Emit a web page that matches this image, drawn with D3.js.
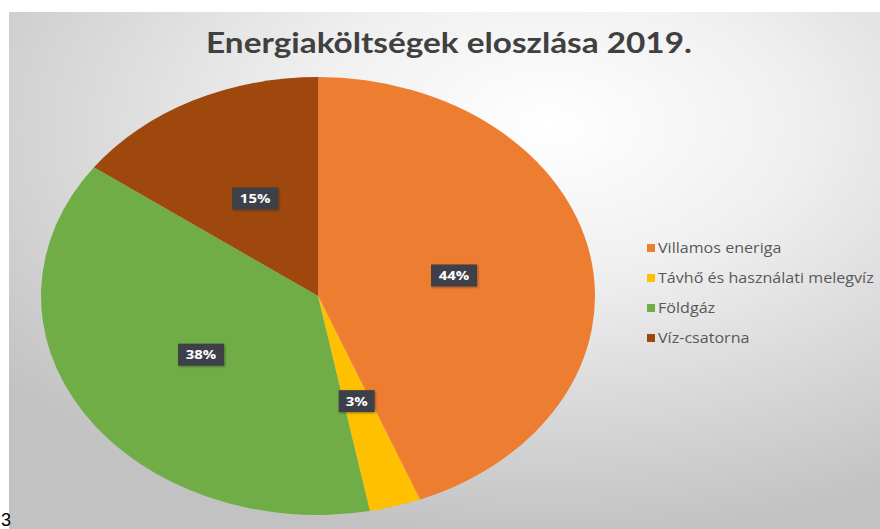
<!DOCTYPE html>
<html>
<head>
<meta charset="utf-8">
<script src="https://cdn.jsdelivr.net/npm/d3@7"></script>
<style>
  body { margin: 0; background: #fff; }
  svg { display: block; }
</style>
</head>
<body>
<svg id="chart"></svg>
<script>
const width = 880;
const height = 529;

const categories = ["Villamos eneriga", "Távhő és használati melegvíz", "Földgáz", "Víz-csatorna"];
const values = [44, 3, 38, 15];
const colors = ["#ED7D31", "#FFC000", "#70AD47", "#9E480E"];
const titleText = "Energiaköltségek eloszlása 2019.";

const svg = d3.select("#chart")
  .attr("width", width)
  .attr("height", height);

// background gradient (Excel style)
const defs = svg.append("defs");
const grad = defs.append("radialGradient")
  .attr("id", "bg")
  .attr("cx", "0.62").attr("cy", "0.22").attr("r", "0.8");
grad.append("stop").attr("offset", "0%").attr("stop-color", "#ffffff");
grad.append("stop").attr("offset", "35%").attr("stop-color", "#f0f0f0");
grad.append("stop").attr("offset", "100%").attr("stop-color", "#c2c2c2");

const shadow = defs.append("filter").attr("id", "lblShadow")
  .attr("x", "-30%").attr("y", "-30%").attr("width", "160%").attr("height", "160%");
shadow.append("feDropShadow")
  .attr("dx", 1).attr("dy", 1).attr("stdDeviation", 1.2)
  .attr("flood-color", "#000").attr("flood-opacity", 0.35);

svg.append("rect")
  .attr("x", 9).attr("y", 12)
  .attr("width", width - 9).attr("height", height - 12)
  .attr("fill", "url(#bg)");

// stray character from the screenshot
svg.append("text")
  .attr("x", 1).attr("y", 526)
  .style("font-family", "Liberation Sans, Arial, sans-serif")
  .style("font-size", "18px")
  .attr("fill", "#000")
  .text("3");

// Title (stretched horizontally like the reference)
svg.append("text")
  .attr("transform", "translate(449,53) scale(1.19,1)")
  .attr("text-anchor", "middle")
  .style("font-family", "Lato, 'Open Sans', sans-serif")
  .style("font-size", "28px")
  .style("font-weight", "bold")
  .attr("fill", "#404040")
  .text(titleText);

// Pie (stretched horizontally like the reference)
const cx = 318, cy = 296;
const ry = 219, rx = 277;
const sx = rx / ry;

const pie = d3.pie().sort(null).value(d => d);
const arc = d3.arc().innerRadius(0).outerRadius(ry);
const arcs = pie(values);

const g = svg.append("g")
  .attr("transform", `translate(${cx},${cy}) scale(${sx},1)`);

g.selectAll("path")
  .data(arcs)
  .enter()
  .append("path")
  .attr("d", arc)
  .attr("fill", (d, i) => colors[i]);

// Data labels
const lbl = svg.append("g").attr("transform", `translate(${cx},${cy})`);
const lg = lbl.selectAll("g")
  .data(arcs)
  .enter()
  .append("g")
  .attr("transform", d => {
    const c = arc.centroid(d);
    return `translate(${c[0] * sx},${c[1]})`;
  });

lg.append("rect")
  .attr("x", d => d.data < 10 ? -18 : -23)
  .attr("y", -11)
  .attr("width", d => d.data < 10 ? 36 : 46)
  .attr("height", 22)
  .attr("fill", "#3d4148")
  .attr("filter", "url(#lblShadow)");

lg.append("text")
  .attr("text-anchor", "middle")
  .attr("dy", "0.36em")
  .attr("transform", "scale(1.15,1)")
  .style("font-family", "'Open Sans', sans-serif")
  .style("font-size", "13px")
  .style("font-weight", "bold")
  .attr("fill", "#ffffff")
  .text(d => d.data + "%");

// Legend
const legend = svg.append("g").attr("transform", "translate(647,0)");
const ly = d3.scalePoint().domain(categories).range([248, 338]);

const items = legend.selectAll("g")
  .data(categories)
  .enter()
  .append("g")
  .attr("transform", d => `translate(0,${ly(d)})`);

items.append("rect")
  .attr("x", 0).attr("y", -4)
  .attr("width", 8).attr("height", 8)
  .attr("fill", (d, i) => colors[i]);

items.append("text")
  .attr("transform", "translate(11,0) scale(1.15,1)")
  .attr("dy", "0.35em")
  .style("font-family", "'Open Sans', sans-serif")
  .style("font-size", "14px")
  .attr("fill", "#595959")
  .text(d => d);
</script>
</body>
</html>
